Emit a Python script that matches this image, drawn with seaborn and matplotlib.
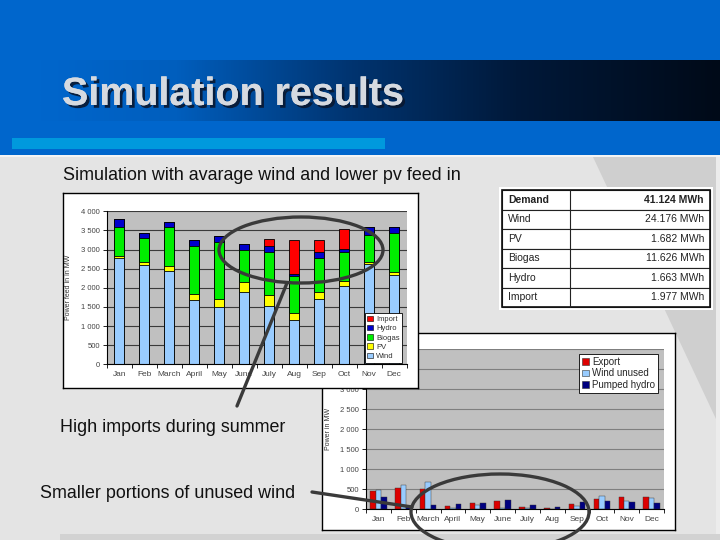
import numpy as np
import pandas as pd
import matplotlib
matplotlib.use("Agg")
import matplotlib.pyplot as plt
import seaborn as sns
from matplotlib.patches import Rectangle, Ellipse, Polygon, Patch
from matplotlib.colors import LinearSegmentedColormap
from matplotlib.ticker import FuncFormatter, FixedLocator
import matplotlib.patheffects as pe

# ---------------- data ----------------
months = ["Jan", "Feb", "March", "April", "May", "June", "July", "Aug", "Sep", "Oct", "Nov", "Dec"]
wind = [2770, 2590, 2440, 1670, 1500, 1880, 1520, 1170, 1700, 2060, 2610, 2340]
pv = [60, 85, 120, 165, 210, 260, 290, 175, 180, 110, 60, 70]
biogas = [750, 640, 1040, 1265, 1490, 840, 1130, 965, 905, 770, 700, 1030]
hydro = [210, 120, 120, 150, 155, 165, 150, 55, 150, 70, 220, 140]
imports = [0, 0, 0, 0, 0, 0, 180, 890, 315, 530, 0, 0]

export = [458, 525, 508, 83, 150, 200, 58, 33, 142, 267, 308, 308]
wind_unused = [483, 608, 691, 25, 117, 42, 25, 17, 75, 333, 200, 275]
pumped_hydro = [300, 83, 108, 142, 158, 233, 108, 58, 175, 200, 183, 158]

table_labels = ["Demand", "Wind", "PV", "Biogas", "Hydro", "Import"]
table_values = ["41.124 MWh", "24.176 MWh", "1.682 MWh", "11.626 MWh", "1.663 MWh", "1.977 MWh"]

y_ticks = [0, 500, 1000, 1500, 2000, 2500, 3000, 3500, 4000]

# ---------------- style ----------------
sns.set_theme(style="white")
plt.rcParams["font.family"] = ["Liberation Sans", "DejaVu Sans"]

W, H = 720, 540
fig = plt.figure(figsize=(7.2, 5.4), dpi=100)


def fig_rect(x0, y0, x1, y1):
    return [x0 / W, 1 - y1 / H, (x1 - x0) / W, (y1 - y0) / H]


# ---------------- background ----------------
bg = fig.add_axes([0, 0, 1, 1], zorder=0)
bg.set_xlim(0, W)
bg.set_ylim(H, 0)
bg.axis("off")
bg.add_patch(Rectangle((0, 0), W, 156, color="#0066cc", lw=0))
cmap = LinearSegmentedColormap.from_list(
    "tb", [(0, "#0066cc"), (0.2, "#005ebd"), (0.45, "#003572"), (0.7, "#00193a"), (1, "#000a18")])
grad = np.linspace(0, 1, 256).reshape(1, -1)
bg.imshow(grad, cmap=cmap, extent=[40, 720, 121, 60], aspect="auto", zorder=1)
bg.set_xlim(0, W)
bg.set_ylim(H, 0)
bg.add_patch(Rectangle((12, 138), 373, 11, color="#0099dd", lw=0, zorder=2))
bg.add_patch(Rectangle((0, 155), W, 2, color="#f4f4f4", lw=0, zorder=2))
bg.add_patch(Rectangle((0, 157), W, H - 157, color="#e4e4e4", lw=0, zorder=2))
bg.add_patch(Polygon([(593, 157), (716, 157), (716, 419)], closed=True, color="#cfcfcf", lw=0, zorder=3))
bg.add_patch(Rectangle((716, 157), 4, H - 157, color="#ececec", lw=0, zorder=3))
bg.add_patch(Rectangle((60, 534), 660, 6, color="#d2d2d2", lw=0, zorder=3))
bg.text(62, 95, "Simulation results", fontsize=28.4, fontweight="bold", color="#d6dae0",
        va="center", ha="left", zorder=5,
        path_effects=[pe.withSimplePatchShadow(offset=(2, -2), shadow_rgbFace="#0a1830", alpha=0.9),
                      pe.Normal()])


def style_axis(ax, grid_color, label, hide_top_labels=False):
    ax.set_facecolor("#c0c0c0")
    ax.set_xlim(-0.5, 11.5)
    ax.set_ylim(0, 4000)
    ax.yaxis.set_major_locator(FixedLocator(y_ticks))

    def fmt(v, p):
        if hide_top_labels and v > 3000:
            return ""
        return f"{v:,.0f}".replace(",", " ")

    ax.yaxis.set_major_formatter(FuncFormatter(fmt))
    ax.grid(axis="y", color=grid_color, lw=0.8)
    ax.grid(axis="x", visible=False)
    ax.set_axisbelow(True)
    for s in ["top", "right"]:
        ax.spines[s].set_visible(False)
    for s in ["left", "bottom"]:
        ax.spines[s].set_color("black")
        ax.spines[s].set_linewidth(0.8)
    ax.tick_params(axis="y", direction="out", length=3, width=0.6, color="black",
                   labelsize=5.5, labelcolor="#444444", pad=2, left=True)
    ax.tick_params(axis="x", which="major", length=0, labelsize=6, labelcolor="#444444", pad=5)
    ax.xaxis.set_minor_locator(FixedLocator(np.arange(-0.5, 12, 1)))
    ax.tick_params(axis="x", which="minor", direction="out", length=3, width=0.6, color="black", bottom=True)
    ax.set_xlabel("")
    ax.set_ylabel(label, fontsize=5, color="#333333")
    ax.yaxis.set_label_coords(-0.115, 0.5)


# ---------------- chart 2 (behind) ----------------
box2 = fig.add_axes(fig_rect(322, 333, 675, 530), zorder=1)
box2.set_facecolor("white")
box2.set_xticks([]); box2.set_yticks([])
for s in box2.spines.values():
    s.set_color("black"); s.set_linewidth(1)

ax2 = fig.add_axes(fig_rect(366, 349.3, 664, 509.3), zorder=2)
df2 = pd.DataFrame({
    "Month": months * 3,
    "Value": export + wind_unused + pumped_hydro,
    "Series": ["Export"] * 12 + ["Wind unused"] * 12 + ["Pumped hydro"] * 12,
})
pal2 = {"Export": "#dd0000", "Wind unused": "#99ccff", "Pumped hydro": "#000080"}
sns.barplot(data=df2, x="Month", y="Value", hue="Series", palette=pal2, order=months,
            width=0.66, gap=0, saturation=1, errorbar=None, ax=ax2, legend=False,
            edgecolor="#333333", linewidth=0.3)
style_axis(ax2, "#7f7f7f", "Power in MW", hide_top_labels=True)
h2 = [Patch(facecolor=pal2[k], edgecolor="#333333", lw=0.4) for k in ["Export", "Wind unused", "Pumped hydro"]]
leg2 = ax2.legend(h2, ["Export", "Wind unused", "Pumped hydro"], loc="upper right",
                  bbox_to_anchor=(0.98, 0.97), fontsize=7, frameon=True, fancybox=False,
                  framealpha=1, edgecolor="black", borderpad=0.3, labelspacing=0.15,
                  handlelength=0.7, handleheight=0.7, handletextpad=0.3, borderaxespad=0)
leg2.get_frame().set_linewidth(0.6)

# ---------------- chart 1 (front) ----------------
box1 = fig.add_axes(fig_rect(63, 193, 418, 388), zorder=3)
box1.set_facecolor("white")
box1.set_xticks([]); box1.set_yticks([])
for s in box1.spines.values():
    s.set_color("black"); s.set_linewidth(1)

ax1 = fig.add_axes(fig_rect(106.7, 211.3, 406.7, 364.3), zorder=4)
layers = [("Import", imports, "#ff0000"), ("Hydro", hydro, "#0000cc"), ("Biogas", biogas, "#00ee00"),
          ("PV", pv, "#ffff00"), ("Wind", wind, "#99ccff")]
stack_order = [wind, pv, biogas, hydro, imports]
cum = np.cumsum(np.array(stack_order), axis=0)  # wind, +pv, +biogas, +hydro, +import
for idx, (name, vals, col) in zip(range(4, -1, -1), layers):
    sns.barplot(x=months, y=cum[idx], color=col, order=months, width=0.4, saturation=1,
                errorbar=None, ax=ax1, edgecolor="black", linewidth=0.6)
style_axis(ax1, "#3a3a3a", "Power feed in in MW")
h1 = [Patch(facecolor=c, edgecolor="black", lw=0.4) for _, _, c in layers]
leg1 = ax1.legend(h1, [n for n, _, _ in layers], loc="lower right", bbox_to_anchor=(0.985, 0.01),
                  fontsize=5.5, frameon=True, fancybox=False, framealpha=1, edgecolor="black",
                  borderpad=0.35, labelspacing=0.25, handlelength=0.7, handleheight=0.7,
                  handletextpad=0.4, borderaxespad=0)
leg1.get_frame().set_linewidth(0.6)
for t in leg1.get_texts():
    t.set_color("#333333")

# ---------------- overlay ----------------
ov = fig.add_axes([0, 0, 1, 1], zorder=5)
ov.set_xlim(0, W)
ov.set_ylim(H, 0)
ov.axis("off")
ov.patch.set_alpha(0)

ov.text(63, 176, "Simulation with avarage wind and lower pv feed in", fontsize=12.9,
        color="#111111", va="center", ha="left")
ov.text(60, 428, "High imports during summer", fontsize=12.9, color="#111111", va="center", ha="left")
ov.text(40, 493, "Smaller portions of unused wind", fontsize=12.9, color="#111111", va="center", ha="left")

# table
ov.add_patch(Rectangle((499, 187), 214, 123, facecolor="white", edgecolor="none"))
row_h = (307 - 190) / len(table_labels)
for i, (lab, val) in enumerate(zip(table_labels, table_values)):
    y0 = 190 + i * row_h
    ov.add_patch(Rectangle((502, y0), 208, row_h, facecolor="white", edgecolor="#222222", lw=0.8))
    fw = "bold" if i == 0 else "normal"
    ov.text(508, y0 + row_h / 2, lab, fontsize=7.5, fontweight=fw, color="#222222", va="center", ha="left")
    ov.text(704, y0 + row_h / 2, val, fontsize=7.5, fontweight=fw, color="#222222", va="center", ha="right")
ov.plot([570, 570], [190, 307], color="#222222", lw=0.8)
ov.add_patch(Rectangle((502, 190), 208, 117, facecolor="none", edgecolor="#111111", lw=1.2))

# callouts
ov.add_patch(Ellipse((301, 250), 164, 66, facecolor="none", edgecolor="#3a3a3a", lw=2.4))
ov.plot([287, 237], [283, 406], color="#3a3a3a", lw=2.4, solid_capstyle="round")
ov.add_patch(Ellipse((500, 512), 178, 76, facecolor="none", edgecolor="#3a3a3a", lw=2.4))
ov.plot([312, 412], [492, 507], color="#3a3a3a", lw=2.4, solid_capstyle="round")

fig.savefig("out.png", dpi=100)
